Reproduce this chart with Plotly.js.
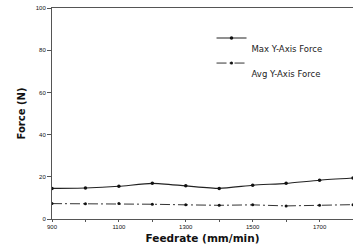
<!DOCTYPE html>
<html><head><meta charset="utf-8">
<script src="https://cdn.plot.ly/plotly-3.0.1.min.js"></script>
<style>html,body{margin:0;padding:0;background:#fff}#c{width:353px;height:248px}</style>
</head><body><div id="c"></div>
<script>
const feedrate = [900,1000,1100,1200,1300,1400,1500,1600,1700,1800];
const maxForce = [14.5,14.7,15.5,16.9,15.7,14.5,16.0,16.9,18.4,19.4];
const avgForce = [7.3,7.2,7.3,7.0,6.7,6.5,6.7,6.2,6.5,6.8];
const xTickVals = [900,1000,1100,1200,1300,1400,1500,1600,1700,1800];
const xTickText = ["900","","1100","","1300","","1500","","1700",""];
const yTickVals = [0,20,40,60,80,100];
const yTickText = ["0","20","40","60","80","100"];
const names = ["Max Y-Axis Force","Avg Y-Axis Force"];

const traces = [
  {x: feedrate, y: maxForce, name: '&nbsp;<br>' + names[0], mode: 'lines+markers', line:{color:'#222', width:1.1, shape:'spline', smoothing:0.6}, marker:{color:'#111', size:3.5}},
  {x: feedrate, y: avgForce, name: '&nbsp;<br>' + names[1], mode: 'lines+markers', line:{color:'#333', width:1, dash:'10px,3px,2px,3px'}, marker:{color:'#111', size:3}}
];
const ff = 'DejaVu Sans, Liberation Sans, Arial, sans-serif';
const tf = {family:'Liberation Sans, Arial, sans-serif', size:6, color:'#111'};
const layout = {
  width:353, height:248,
  margin:{l:52, r:0, t:8, b:29},
  paper_bgcolor:'#fff', plot_bgcolor:'#fff',
  showlegend:true,
  legend:{x:0.53, y:0.915, xanchor:'left', yanchor:'top', valign:'top', bgcolor:'rgba(0,0,0,0)', font:{family:ff, size:8.5, color:'#222'}, itemwidth:30, tracegroupgap:0},
  xaxis:{range:[900,1800], tickvals:xTickVals, ticktext:xTickText, showgrid:false, zeroline:false, showline:true, mirror:true, linecolor:'#555', linewidth:1, ticks:'outside', ticklen:2, tickcolor:'#555', tickfont:tf,
    title:{text:'<b>Feedrate (mm/min)</b>', font:{family:ff, size:10.5, color:'#111'}, standoff:5}},
  yaxis:{range:[0,100], tickvals:yTickVals, ticktext:yTickText, showgrid:false, zeroline:false, showline:true, linecolor:'#555', linewidth:1, ticks:'outside', ticklen:4, tickcolor:'#555', tickfont:tf,
    title:{text:'<b>Force (N)</b>', font:{family:ff, size:10, color:'#111'}, standoff:8}}
};
Plotly.newPlot('c', traces, layout, {staticPlot:true, displayModeBar:false});
</script></body></html>
